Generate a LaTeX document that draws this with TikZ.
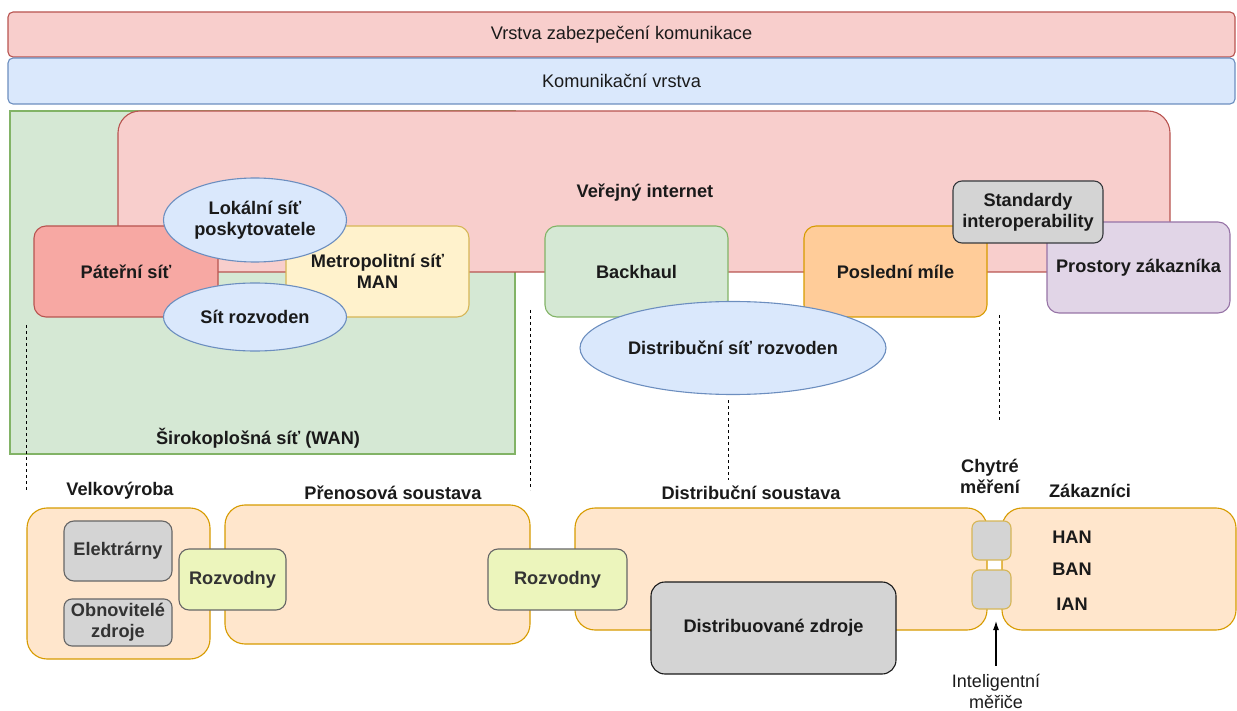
\documentclass[tikz,border=0pt]{standalone}
\usepackage{fontspec}
\setmainfont{Liberation Sans}
\usetikzlibrary{shapes.geometric,arrows.meta}

\definecolor{redfill}{HTML}{F8CECC}
\definecolor{redline}{HTML}{B85450}
\definecolor{bluefill}{HTML}{DAE8FC}
\definecolor{blueline}{HTML}{6C8EBF}
\definecolor{greenfill}{HTML}{D5E8D4}
\definecolor{greenline}{HTML}{82B366}
\definecolor{salmon}{HTML}{F7A8A3}
\definecolor{yellowfill}{HTML}{FFF2CC}
\definecolor{yellowline}{HTML}{D6B656}
\definecolor{orangefill}{HTML}{FFCC99}
\definecolor{orangeline}{HTML}{D79B00}
\definecolor{purplefill}{HTML}{E1D5E7}
\definecolor{purpleline}{HTML}{9673A6}
\definecolor{grayfill}{HTML}{D4D4D4}
\definecolor{grayline}{HTML}{666666}
\definecolor{darkline}{HTML}{36393D}
\definecolor{peach}{HTML}{FFE6CC}
\definecolor{limefill}{HTML}{ECF5BC}
\definecolor{txt}{HTML}{1A1A1A}
\definecolor{graytxt}{HTML}{333333}

\tikzset{
  base/.style={inner sep=0pt, outer sep=0pt, line width=1.1pt, align=center,
    text=txt, font=\fontsize{18.2}{21}\selectfont\bfseries},
  band/.style={base, draw, rounded corners=5pt, font=\fontsize{18.2}{21}\selectfont},
  box/.style={base, draw, rounded corners=#1},
  box/.default=12pt,
  oval/.style={base, draw=blueline, fill=bluefill, ellipse},
  lbl/.style={base},
  thin/.style={base, font=\fontsize{18}{21}\selectfont},
  sz/.style n args={2}{minimum width=#1pt, minimum height=#2pt},
  guide/.style={line width=1pt, dash pattern=on 3pt off 3pt, black},
}

\begin{document}
\begin{tikzpicture}[x=1pt, y=-1pt]
\useasboundingbox (0,0) rectangle (1237,711);

% layers at the top
\node[band, draw=redline, fill=redfill, sz={1227}{45}] (sec) at (621.5,34.5) {Vrstva zabezpečení komunikace};
\node[band, draw=blueline, fill=bluefill, sz={1227}{46}] (com) at (621.5,81) {Komunikační vrstva};

% network domains
\node[base, draw=greenline, fill=greenfill, sz={505}{343}] (wan) at (262.5,282.5) {};
\node[lbl] (wanlbl) at (258,438) {Širokoplošná síť (WAN)};
\node[box=22pt, draw=redline, fill=redfill, sz={1052}{161}] (inet) at (644,191.5) {};
\node[lbl] (inetlbl) at (645,193) {Veřejný internet};

\node[box, draw=redline, fill=salmon, sz={184}{91}] (pater) at (126,271.5) {Páteřní síť};
\node[box, draw=yellowline, fill=yellowfill, sz={183}{91}] (man) at (377.5,271.5) {Metropolitní síť\\MAN};
\node[oval, sz={183}{84}] (lok) at (255,220) {Lokální síť\\poskytovatele};
\node[oval, sz={183}{68}] (sitr) at (255,317) {Sít rozvoden};

\node[box, draw=greenline, fill=greenfill, sz={183}{91}] (back) at (636.5,271.5) {Backhaul};
\node[box, draw=orangeline, fill=orangefill, sz={183}{91}] (posl) at (895.5,271.5) {Poslední míle};
\node[box, draw=purpleline, fill=purplefill, sz={183}{91}] (pros) at (1138.5,267.5) {Prostory zákazníka};
\node[box=9pt, draw=darkline, fill=grayfill, sz={150}{62}] (std) at (1028,212) {Standardy\\interoperability};
\node[oval, sz={306}{93}] (dsr) at (733,348) {Distribuční síť rozvoden};

% dashed guides between the two halves
\coordinate (g1a) at (26,325);  \coordinate (g1b) at (26,492);
\coordinate (g2a) at (530,310); \coordinate (g2b) at (530,490);
\coordinate (g3a) at (728,400); \coordinate (g3b) at (728,480);
\coordinate (g4a) at (999,315); \coordinate (g4b) at (999,420);
\draw[guide] (g1a) -- (g1b);
\draw[guide] (g2a) -- (g2b);
\draw[guide] (g3a) -- (g3b);
\draw[guide] (g4a) -- (g4b);

% power system
\node[lbl] (velklbl) at (120,491) {Velkovýroba};
\node[lbl] (prenlbl) at (393,493) {Přenosová soustava};
\node[lbl] (distlbl) at (751,493) {Distribuční soustava};
\node[lbl] (chytlbl) at (990,476) {Chytré\\měření};
\node[lbl] (zaklbl) at (1090,491) {Zákazníci};

\node[box=20pt, draw=orangeline, fill=peach, sz={183}{151}] (velk) at (118.5,583.5) {};
\node[box=20pt, draw=orangeline, fill=peach, sz={305}{139}] (pren) at (377.5,574.5) {};
\node[box=20pt, draw=orangeline, fill=peach, sz={412}{122}] (dist) at (781,569) {};
\node[box=20pt, draw=orangeline, fill=peach, sz={234}{122}] (cust) at (1119,569) {};

\node[box=10pt, draw=grayline, fill=grayfill, text=graytxt, sz={108}{60}] (elek) at (118,551) {Elektrárny};
\node[box=8pt, draw=grayline, fill=grayfill, text=graytxt, sz={108}{47}] (obn) at (118,622.5) {Obnovitelé\\zdroje};
\node[box=10pt, draw=grayline, fill=limefill, text=graytxt, sz={107}{61}] (rz1) at (232.5,579.5) {Rozvodny};
\node[box=10pt, draw=grayline, fill=limefill, text=graytxt, sz={139}{61}] (rz2) at (557.5,579.5) {Rozvodny};
\node[box=14pt, draw=txt, fill=grayfill, sz={245}{92}] (dzr) at (773.5,628) {Distribuované zdroje};

\node[box=7pt, draw=yellowline, fill=grayfill, sz={39}{39}] (m1) at (991.5,540.5) {};
\node[box=7pt, draw=yellowline, fill=grayfill, sz={39}{39}] (m2) at (991.5,589.5) {};

\node[lbl] (han) at (1072,537) {HAN};
\node[lbl] (ban) at (1072,569) {BAN};
\node[lbl] (ian) at (1072,604) {IAN};

\node[thin] (intel) at (996,691) {Inteligentní\\měřiče};
\coordinate (arrtip) at (996,621);
\draw[line width=1.1pt, -{Latex[length=9pt,width=6pt]}] (intel.north) ++(0,-8) -- (arrtip);
\end{tikzpicture}
\end{document}
